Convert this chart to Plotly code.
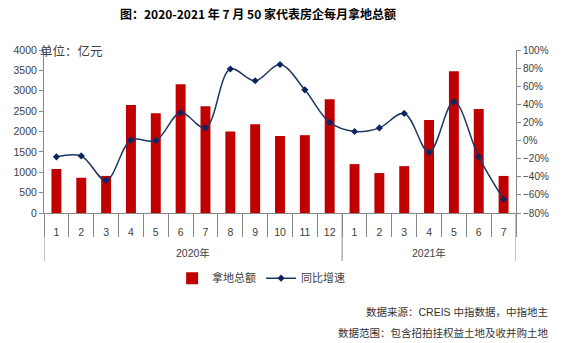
import plotly.graph_objects as go

years = ["2020年"] * 12 + ["2021年"] * 7
months = [str(m) for m in range(1, 13)] + [str(m) for m in range(1, 8)]
land_amount = [1080, 865, 910, 2650, 2450, 3160, 2620, 2000, 2180, 1890, 1910, 2790,
               1200, 980, 1150, 2280, 3480, 2550, 910]
yoy_growth = [-18, -17, -44, 0.5, 0, 31, 14, 79, 66, 84, 56, 20,
              10, 14, 30, -13, 43, -18, -65]

FONT = "Liberation Sans, Noto Sans CJK SC, sans-serif"
CJK = "Noto Sans CJK SC, sans-serif"

idx = list(range(len(months)))

fig = go.Figure()
fig.add_trace(go.Bar(
    x=idx, y=land_amount, name="拿地总额",
    marker=dict(color="#C00000", line=dict(width=0)), width=0.4,
))
fig.add_trace(go.Scatter(
    x=idx, y=yoy_growth, name="同比增速", yaxis="y2",
    mode="lines+markers",
    line=dict(color="#1F3864", width=1.5, shape="spline", smoothing=1),
    marker=dict(color="#0B2560", size=5.5, symbol="diamond"),
))

GRAY = "#888888"
fig.update_layout(
    width=565, height=343,
    margin=dict(l=44, r=49, t=50, b=130),
    paper_bgcolor="white", plot_bgcolor="white",
    font=dict(family=FONT, size=10.5, color="#404040"),
    title=dict(text="<b>图：2020-2021 年 7 月 50 家代表房企每月拿地总额</b>",
               x=258 / 565, xanchor="center", xref="container",
               y=1 - 15 / 343, yanchor="middle", yref="container",
               font=dict(family=CJK, size=12, color="#000000")),
    showlegend=True,
    legend=dict(orientation="h", x=0.46, xanchor="center", y=-0.40, yanchor="middle",
                font=dict(family=CJK, size=11, color="#404040"),
                itemwidth=30, tracegroupgap=0),
    xaxis=dict(
        range=[-0.5, len(months) - 0.5],
        tickmode="array", tickvals=idx, ticktext=months,
        ticks="", ticklabelstandoff=9,
        showline=True, linecolor=GRAY, linewidth=1,
        minor=dict(ticks="outside", ticklen=23, tickcolor=GRAY, tickwidth=1,
                   tickmode="linear", tick0=-0.5, dtick=1),
        showgrid=False, zeroline=False,
        tickfont=dict(family=FONT, size=10.5, color="#404040"),
    ),
    yaxis=dict(
        range=[0, 4000], dtick=500, showgrid=False, zeroline=False,
        showline=True, linecolor=GRAY, linewidth=1,
        ticks="outside", ticklen=4, tickcolor=GRAY,
        tickfont=dict(family=FONT, size=10.5, color="#404040"),
    ),
    yaxis2=dict(
        range=[-80, 100], dtick=20, overlaying="y", side="right",
        showgrid=False, zeroline=False,
        showline=True, linecolor=GRAY, linewidth=1,
        ticks="outside", ticklen=4, tickcolor=GRAY,
        ticksuffix="%", tickfont=dict(family=FONT, size=10, color="#404040"),
    ),
)

# year groups: dividers and labels derived from the years list
groups = []
for i, y in enumerate(years):
    if not groups or groups[-1][0] != y:
        groups.append([y, i, i])
    else:
        groups[-1][2] = i
bounds = sorted({g[1] - 0.5 for g in groups} | {g[2] + 0.5 for g in groups})
for b in bounds:
    fig.add_shape(type="line", xref="x", yref="paper", x0=b, x1=b,
                  y0=0, y1=(213 - 261) / 163, line=dict(color=GRAY, width=1))
for name, s, e in groups:
    fig.add_annotation(text=name, xref="x", yref="paper", x=(s + e) / 2,
                       y=(213 - 253) / 163, yanchor="middle", showarrow=False,
                       font=dict(family=FONT, size=10.5, color="#404040"))

fig.add_annotation(text="单位：亿元", xref="paper", yref="paper",
                   x=-6 / 472, y=1.0, xanchor="left", yanchor="middle",
                   showarrow=False, font=dict(family=CJK, size=12.5, color="#404040"))
fig.add_annotation(text="数据来源：CREIS 中指数据，中指地主", xref="paper", yref="paper",
                   x=(550 - 44) / 472, y=(213 - 312) / 163, xanchor="right", yanchor="middle",
                   showarrow=False, font=dict(family=FONT, size=10.5, color="#333333"))
fig.add_annotation(text="数据范围：包含招拍挂权益土地及收并购土地", xref="paper", yref="paper",
                   x=(550 - 44) / 472, y=(213 - 332) / 163, xanchor="right", yanchor="middle",
                   showarrow=False, font=dict(family=CJK, size=10.5, color="#333333"))

fig.write_html("out.html")
